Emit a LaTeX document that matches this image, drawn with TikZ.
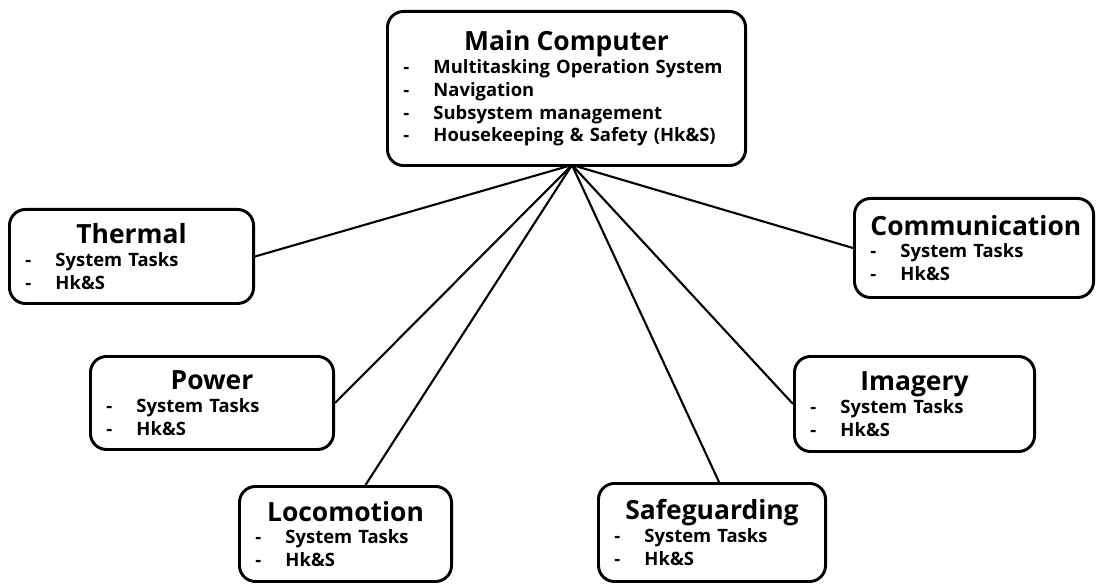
\documentclass[tikz,border=0pt]{standalone}
\usepackage{fontspec}
\setmainfont{Open Sans}
\usetikzlibrary{positioning,calc}
\setlength{\parindent}{0pt}
\newcommand{\unittitle}[1]{{\centering\fontsize{18.8}{23.5}\selectfont #1\par}}
\newcommand{\dashitem}[1]{\noindent\makebox[0.75cm][l]{-}#1\par}

\begin{document}
\begin{tikzpicture}[x=0.025cm, y=-0.025cm, every node/.style={font=\bfseries},
  unit/.style 2 args={draw, line width=2.1pt, rounded corners=4mm, anchor=north west,
    inner xsep=0.4cm, inner ysep=0pt, text width=#1, minimum height=#2,
    font=\fontsize{13.1}{16.2}\selectfont\bfseries},
  link/.style={line width=1.5pt}]
  \useasboundingbox (0,0) rectangle (1098,584);
  % main unit
  \node[unit={8.15cm}{3.85cm}] (main) at (386,10) {\unittitle{Main Computer}%
    \dashitem{Multitasking Operation System}\dashitem{Navigation}%
    \dashitem{Subsystem management}\dashitem{Housekeeping \& Safety (Hk\&S)}};
  \coordinate (hub) at (572,165);
  % subsystems
  \node[unit={5.3cm}{2.35cm}] (thermal) at (8,208) {\unittitle{Thermal}\dashitem{System Tasks}\dashitem{Hk\&S}};
  \node[unit={5.175cm}{2.475cm}] (comm) at (853,197) {\unittitle{Communication}\dashitem{System Tasks}\dashitem{Hk\&S}};
  \node[unit={5.275cm}{2.325cm}] (power) at (89,355) {\unittitle{Power}\dashitem{System Tasks}\dashitem{Hk\&S}};
  \node[unit={5.2cm}{2.375cm}] (imagery) at (793,355) {\unittitle{Imagery}\dashitem{System Tasks}\dashitem{Hk\&S}};
  \node[unit={4.5cm}{2.375cm}] (loco) at (238,485) {\unittitle{Locomotion}\dashitem{System Tasks}\dashitem{Hk\&S}};
  \node[unit={4.875cm}{2.45cm}] (safe) at (597,482) {\unittitle{Safeguarding}\dashitem{System Tasks}\dashitem{Hk\&S}};
  % links
  \draw[link] (hub) -- (thermal.east);
  \draw[link] (hub) -- (comm.west);
  \draw[link] (hub) -- (power.east);
  \draw[link] (hub) -- (imagery.west);
  \draw[link] (hub) -- ($(loco.north)+(20,0)$);
  \draw[link] (hub) -- ($(safe.north)+(7,0)$);
\end{tikzpicture}
\end{document}
